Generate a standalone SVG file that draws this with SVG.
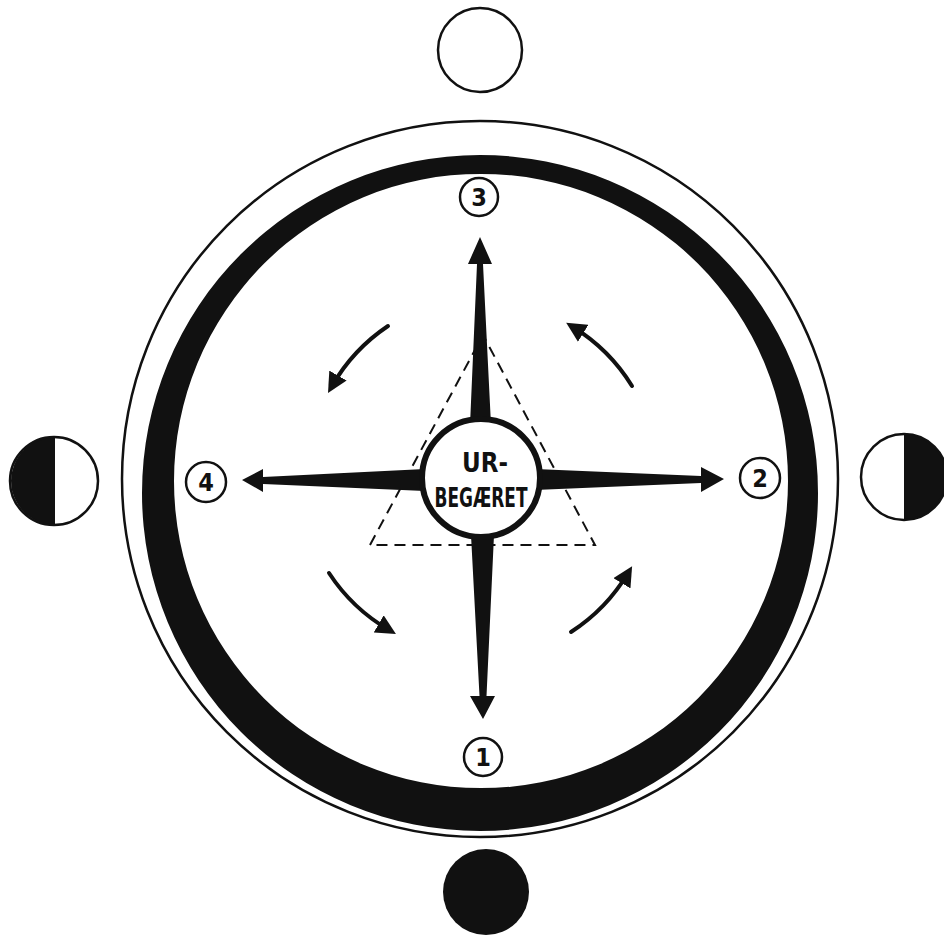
<svg xmlns="http://www.w3.org/2000/svg" width="944" height="946" viewBox="0 0 944 946">
<defs>
<style>
.thin{fill:none;stroke:#111;stroke-width:2.5}
.num{fill:#fff;stroke:#111;stroke-width:2.5}
.numt{font-family:"DejaVu Sans Condensed","DejaVu Sans",sans-serif;font-weight:bold;font-size:25px;fill:#111;text-anchor:middle}
.arm{fill:#111}
.curve{fill:none;stroke:#111;stroke-width:4;stroke-linecap:round;marker-end:url(#ah)}
.dash{fill:none;stroke:#111;stroke-width:2;stroke-dasharray:11 7}
.ct{font-family:"DejaVu Sans Condensed","DejaVu Sans",sans-serif;font-weight:bold;font-size:26px;fill:#111;text-anchor:middle}
</style>
<marker id="ah" viewBox="0 0 10 10" refX="6" refY="5" markerWidth="5" markerHeight="5" orient="auto" markerUnits="strokeWidth">
<path d="M0,0 L10,5 L0,10 z" fill="#111"/>
</marker>
</defs>
<rect width="944" height="946" fill="#fff"/>

<g id="moon-top"><circle cx="480" cy="50" r="42" class="thin"/></g>
<g id="moon-bottom"><circle cx="486" cy="892" r="43" fill="#111"/></g>
<g id="moon-left">
<path d="M55,437 A44,44 0 0 0 55,525 Z" fill="#111"/>
<circle cx="54" cy="481" r="44" class="thin"/>
</g>
<g id="moon-right">
<path d="M904,434 A43,43 0 0 1 904,520 Z" fill="#111"/>
<circle cx="904" cy="477" r="43" class="thin"/>
</g>

<g id="rings">
<circle cx="480" cy="479" r="358" class="thin"/>
<path d="M142,493 A338,338 0 1 0 818,493 A338,338 0 1 0 142,493 Z M174,481 A307,307 0 1 1 788,481 A307,307 0 1 1 174,481 Z" fill="#111" fill-rule="evenodd"/>
</g>

<g id="triangle">
<path class="dash" d="M370,545 L483,335 L595,545 Z"/>
</g>

<g id="connectors">
<path class="arm" d="M480,237 L468,264 L477,264 L470,425 L491,425 L483,264 L492,264 Z"/>
<path class="arm" d="M483,719 L470,696 L479.5,696 L471,535 L494,535 L486.5,696 L495,696 Z"/>
<path class="arm" d="M242,480 L263,469 L263,477 L425,469 L425,491 L263,484 L263,492 Z"/>
<path class="arm" d="M724,479 L701,467 L701,476 L535,469 L535,490 L701,483 L701,492 Z"/>
<path class="curve" d="M388,326 A180,180 0 0 0 332,386"/>
<path class="curve" d="M632,386 A180,180 0 0 0 573,327"/>
<path class="curve" d="M329,573 A180,180 0 0 0 389,630"/>
<path class="curve" d="M571,632 A180,180 0 0 0 628,573"/>
</g>

<g id="center">
<circle cx="481" cy="478" r="59" fill="#fff" stroke="#111" stroke-width="6"/>
<text class="ct" x="485" y="472" textLength="46" lengthAdjust="spacingAndGlyphs">UR-</text>
<text class="ct" x="481" y="507" textLength="93" lengthAdjust="spacingAndGlyphs">BEGÆRET</text>
</g>

<g id="n1"><circle cx="483" cy="757" r="19" class="num"/><text class="numt" x="483" y="766">1</text></g>
<g id="n2"><circle cx="760" cy="478" r="20" class="num"/><text class="numt" x="760" y="487">2</text></g>
<g id="n3"><circle cx="479" cy="197" r="19" class="num"/><text class="numt" x="479" y="206">3</text></g>
<g id="n4"><circle cx="206" cy="482" r="20" class="num"/><text class="numt" x="206" y="491">4</text></g>
</svg>
